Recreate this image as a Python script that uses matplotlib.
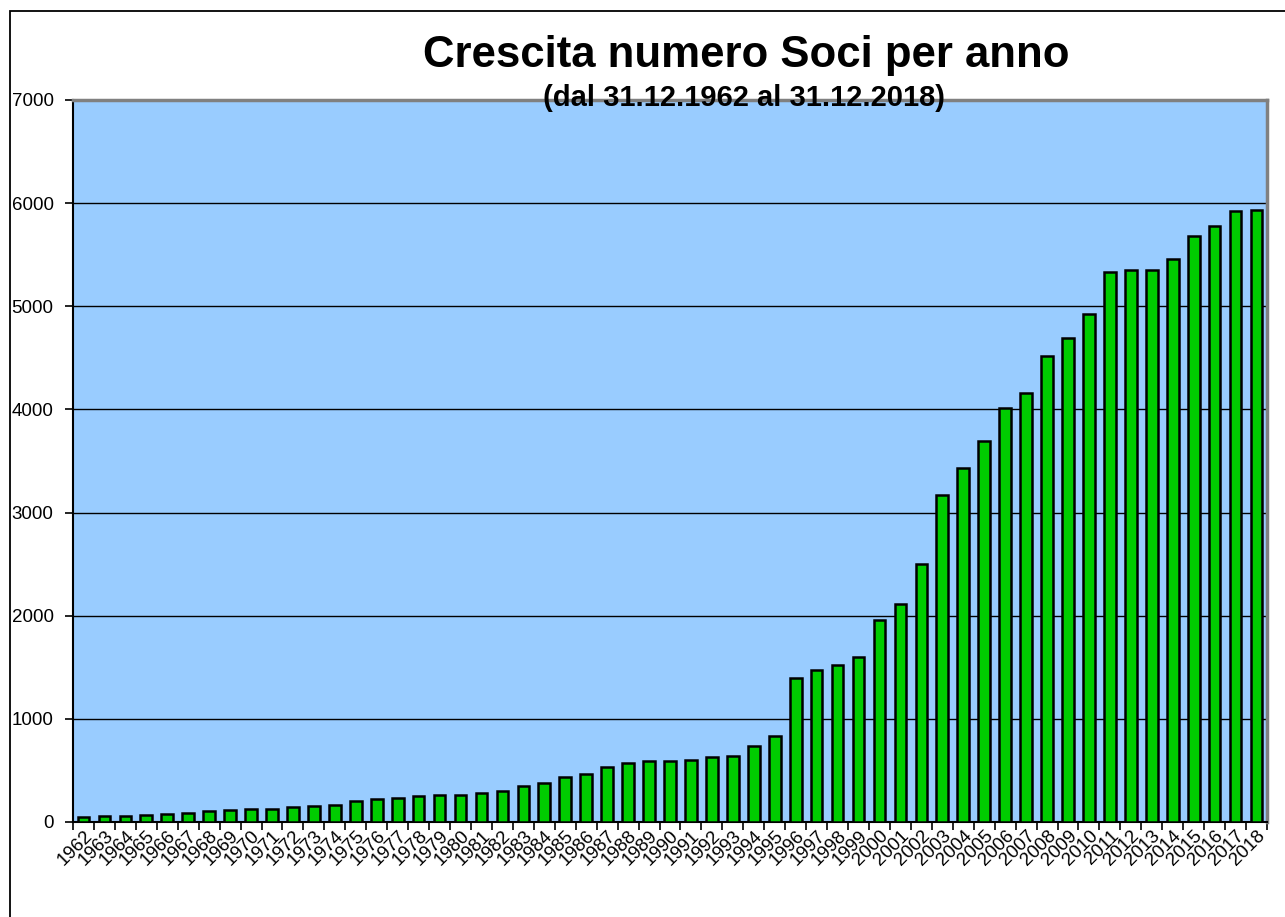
import matplotlib
matplotlib.use("Agg")
import matplotlib.pyplot as plt
from matplotlib.patches import Rectangle

plt.rcParams["font.family"] = ["Liberation Sans", "DejaVu Sans"]

# --- data ---
years = list(range(1962, 2019))
soci = [45, 55, 55, 68, 80, 92, 103, 116, 129, 129,
        142, 155, 168, 207, 219, 229, 252, 265, 260, 285,
        297, 346, 381, 432, 468, 532, 568, 594, 594, 604,
        633, 643, 733, 830, 1398, 1471, 1524, 1595, 1957, 2110,
        2499, 3168, 3430, 3692, 4017, 4162, 4514, 4695, 4921, 5332,
        5355, 5355, 5454, 5680, 5779, 5920, 5929]
yticks = [0, 1000, 2000, 3000, 4000, 5000, 6000, 7000]

title = "Crescita numero Soci per anno"
subtitle = "(dal 31.12.1962 al 31.12.2018)"

# --- plot ---
fig = plt.figure(figsize=(12.85, 9.17), dpi=100)
ax = fig.add_axes([73 / 1285, 1 - 822 / 917, 1194 / 1285, 722 / 917])

# outer chart frame
fig.patches.append(Rectangle((10 / 1285, -0.05), 1.2, 1 - 11 / 917 + 0.05,
                             transform=fig.transFigure, fill=False,
                             edgecolor="black", linewidth=1.3))

ax.set_facecolor("#99CCFF")
x = list(range(len(years)))
ax.bar(x, soci, width=0.56, color="#00CC00", edgecolor="black",
       linewidth=1.8, zorder=3)

ax.set_xlim(-0.5, len(years) - 0.5)
ax.set_ylim(0, 7000)
ax.set_yticks(yticks)
ax.yaxis.grid(True, color="black", linewidth=1)
ax.set_axisbelow(True)

ax.set_xticks(x)
ax.set_xticklabels([str(y) for y in years], rotation=45, ha="right",
                   va="top", rotation_mode="anchor")
ax.set_xticks([i - 0.5 for i in range(len(years) + 1)], minor=True)
ax.tick_params(axis="x", which="major", length=0, pad=4, labelsize=13.5)
ax.tick_params(axis="x", which="minor", length=6, width=1.2, direction="out")
ax.tick_params(axis="y", length=6, width=1.2, direction="out", pad=8,
               labelsize=13.5)

for s in ["left", "bottom"]:
    ax.spines[s].set_color("black")
    ax.spines[s].set_linewidth(1.5)
for s in ["top", "right"]:
    ax.spines[s].set_color("#808080")
    ax.spines[s].set_linewidth(2.5)

fig.text(0.581, 0.939, title, ha="center", va="center",
         fontsize=31.5, fontweight="bold")
fig.text(0.579, 0.893, subtitle, ha="center", va="center",
         fontsize=21, fontweight="bold")

fig.savefig("out.png", dpi=100)
